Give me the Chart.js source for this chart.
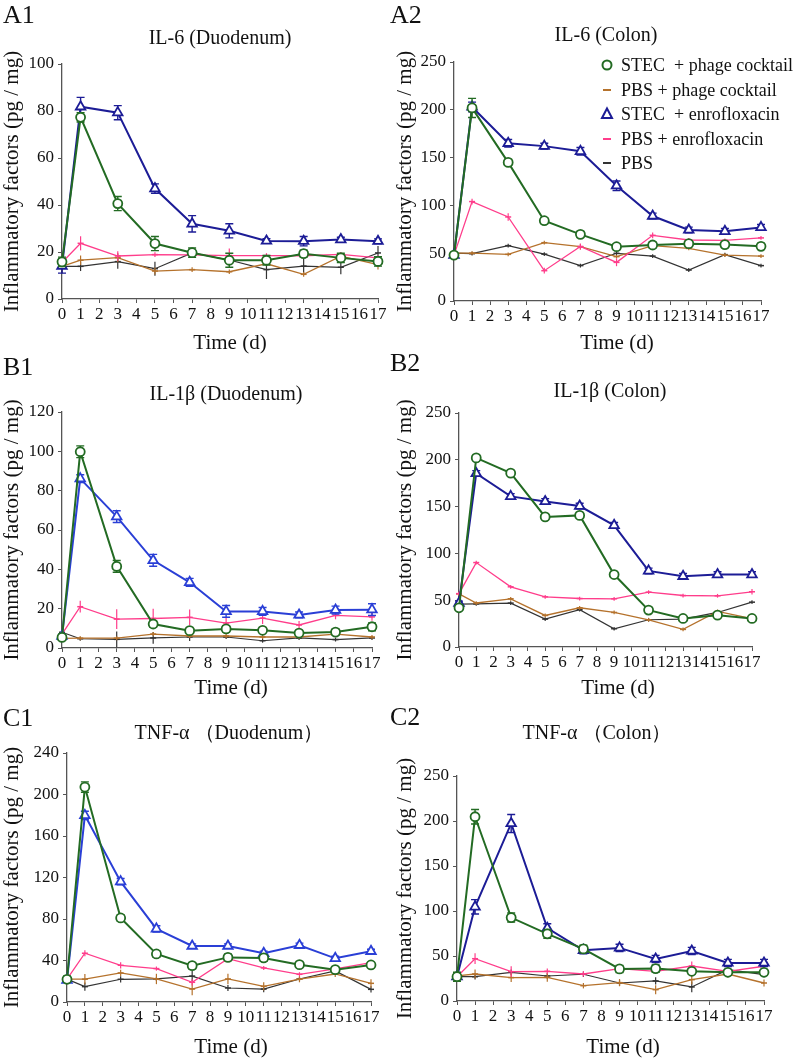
<!DOCTYPE html>
<html><head><meta charset="utf-8">
<script src="https://cdn.jsdelivr.net/npm/chart.js@4.4.1/dist/chart.umd.min.js"></script>
<style>
html,body{margin:0;padding:0;background:#fff;}
body{width:800px;height:1059px;position:relative;overflow:hidden;font-family:"Liberation Serif","Times New Roman",Times,Tinos,"Nimbus Roman","Nimbus Roman No9 L",FreeSerif,"DejaVu Serif","Noto Serif",serif;color:#111;}
canvas{position:absolute;}
.t{position:absolute;line-height:1;white-space:pre;transform:translate(-50%,-50%);}
.lbl{position:absolute;line-height:1;font-size:26px;white-space:pre;transform:translateY(-50%);}
</style></head><body>
<script>
// ---------- DATA ----------
const days = [0, 1, 3, 5, 7, 9, 11, 13, 15, 17];
const seriesNames = ['STEC  + phage cocktail', 'PBS + phage cocktail', 'STEC  + enrofloxacin', 'PBS + enrofloxacin', 'PBS'];
const yAxisTitle = 'Inflammatory factors (pg / mg)';
const xAxisTitle = 'Time (d)';
const panelLabels = ['A1', 'A2', 'B1', 'B2', 'C1', 'C2'];
const panelTitles = ['IL-6 (Duodenum)', 'IL-6 (Colon)', 'IL-1β (Duodenum)', 'IL-1β (Colon)', 'TNF-α （Duodenum）', 'TNF-α （Colon）'];
const yMaxes = [100, 250, 120, 250, 240, 250];
const ySteps = [20, 50, 10, 50, 40, 50];

// A1 IL-6 duodenum
const a1_stecPhage = [15.8, 77.3, 40.6, 23.6, 19.7, 16.5, 16.5, 19.3, 17.5, 16.0];
const a1_pbsPhage  = [13.9, 16.5, 17.6, 11.9, 12.5, 11.6, 15.0, 10.5, 18.2, 14.6];
const a1_stecEnro  = [14.0, 81.8, 79.3, 47.0, 32.0, 29.0, 24.7, 24.6, 25.3, 24.6];
const a1_pbsEnro   = [15.5, 23.7, 18.3, 18.9, 18.8, 18.5, 18.5, 18.4, 19.0, 17.5];
const a1_pbs       = [13.9, 13.9, 15.9, 12.9, 19.6, 16.6, 12.5, 14.0, 13.5, 19.6];
const a1_stecPhage_sd = [2, 2, 3, 3, 2, 3, 2, 1.5, 2, 2];
const a1_pbsPhage_sd  = [2, 2, 2, 1.5, 1, 1, 1, 1, 1, 2];
const a1_stecEnro_sd  = [3, 4, 3, 2, 3.5, 3, 1, 2, 1, 1];
const a1_pbsEnro_sd   = [2, 3, 2, 1, 1, 3, 1, 1, 1, 1];
const a1_pbs_sd       = [3, 2, 3, 3, 1, 2, 4, 3, 3, 3];

// A2 IL-6 colon
const a2_stecPhage = [48, 202, 145, 84, 69.7, 56.8, 58.6, 60, 59, 57.2];
const a2_pbsPhage  = [50, 50, 48.8, 61, 56.8, 46.4, 57.9, 55, 48, 47];
const a2_stecEnro  = [48, 203, 165, 162, 156.6, 120.6, 88.9, 74.3, 72.9, 77];
const a2_pbsEnro   = [48, 104, 87.9, 31.7, 57, 40.4, 68.7, 63.8, 63.5, 66];
const a2_pbs       = [50, 49.5, 57.9, 49, 37, 49.9, 47, 32.4, 48.5, 37];
const a2_stecPhage_sd = [2, 10, 3, 3, 3, 3, 3, 3, 3, 3];
const a2_pbsPhage_sd  = [2, 2, 2, 2, 3, 2, 2, 2, 2, 2];
const a2_stecEnro_sd  = [2, 5, 4, 3, 4, 5, 3, 3, 3, 3];
const a2_pbsEnro_sd   = [2, 3, 4, 3, 3, 4, 3, 2, 2, 2];
const a2_pbs_sd       = [2, 2, 2, 2, 2, 2, 2, 2, 2, 2];

// B1 IL-1β duodenum
const b1_stecPhage = [5.4, 99.8, 41.5, 12.2, 8.8, 9.7, 9.0, 7.6, 8.1, 10.8];
const b1_pbsPhage  = [4.9, 5.0, 5.0, 7.1, 6.1, 6.1, 5.6, 5.6, 7.1, 5.6];
const b1_stecEnro  = [6.0, 86.1, 66.8, 44.6, 33.4, 18.6, 18.6, 16.8, 19.3, 19.5];
const b1_pbsEnro   = [7.0, 21.0, 14.7, 15.0, 15.6, 12.7, 15.2, 11.7, 16.6, 15.8];
const b1_pbs       = [8.0, 4.7, 4.4, 5.1, 5.6, 5.6, 3.7, 5.1, 4.3, 5.1];
const b1_stecPhage_sd = [1.5, 3, 3, 1.5, 1, 1.5, 1, 1, 1.5, 2];
const b1_pbsPhage_sd  = [1, 1, 1, 1, 1, 1, 1, 1, 1, 1];
const b1_stecEnro_sd  = [1, 2, 3, 3, 2, 3, 2, 1.5, 2, 3];
const b1_pbsEnro_sd   = [2, 3, 5, 5, 4, 3, 3, 2, 2, 2];
const b1_pbs_sd       = [1, 1, 4, 3, 2, 1, 1, 1, 1, 1];

// B2 IL-1β colon
const b2_stecPhage = [41.9, 202, 185.7, 139, 140.6, 77.4, 39.4, 30.5, 34, 30.5];
const b2_pbsPhage  = [56.8, 47, 51.5, 33.7, 41.9, 36.9, 29, 18.8, 38, 30.2];
const b2_stecEnro  = [47, 185.4, 160.9, 155.5, 150.6, 130, 81.3, 75.6, 77.4, 77.4];
const b2_pbsEnro   = [57, 90.2, 64.3, 53.6, 51.8, 51.5, 58.6, 55, 54.7, 59];
const b2_pbs       = [45.8, 46, 46.9, 29.8, 39.8, 19.5, 29.1, 29.8, 36.9, 47.9];
const b2_stecPhage_sd = [2, 2, 2, 2, 2, 2, 2, 2, 2, 2];
const b2_pbsPhage_sd  = [2, 2, 2, 2, 2, 2, 2, 2, 2, 2];
const b2_stecEnro_sd  = [2, 3, 3, 3, 3, 3, 3, 3, 3, 3];
const b2_pbsEnro_sd   = [2, 2, 2, 2, 2, 2, 2, 2, 2, 3];
const b2_pbs_sd       = [2, 2, 2, 2, 2, 2, 2, 2, 2, 2];

// C1 TNF-α duodenum
const c1_stecPhage = [21.9, 207.2, 81, 46.3, 35, 43, 42.5, 36, 31.2, 35.7];
const c1_pbsPhage  = [22, 22, 28, 22.2, 12.5, 22.2, 15.1, 22, 27, 18];
const c1_stecEnro  = [21, 179.9, 116, 70.5, 54, 54, 47, 54.7, 42.1, 48.9];
const c1_pbsEnro   = [22, 47, 35.4, 32.2, 19, 41.8, 32.8, 26.7, 31.9, 38];
const c1_pbs       = [22, 14.8, 21.9, 22.2, 25, 13.5, 12.5, 22.2, 30, 12.2];
const c1_stecPhage_sd = [3, 5, 3, 3, 3, 3, 3, 2, 2, 2];
const c1_pbsPhage_sd  = [5, 5, 3, 5, 6, 5, 4, 3, 3, 4];
const c1_stecEnro_sd  = [2, 4, 3, 3, 2, 2, 2, 2, 2, 2];
const c1_pbsEnro_sd   = [2, 3, 3, 2, 3, 3, 2, 2, 2, 2];
const c1_pbs_sd       = [2, 4, 3, 2, 5, 3, 3, 2, 2, 3];

// C2 TNF-α colon
const c2_stecPhage = [27, 204.7, 92.7, 74.6, 57.9, 35.6, 36, 33, 31.9, 31.9];
const c2_pbsPhage  = [28, 30, 26, 26.3, 17, 20.4, 12.6, 23.7, 30, 20];
const c2_stecEnro  = [27, 104.6, 197.3, 80.9, 56.4, 59, 46.7, 55.6, 42.3, 42.3];
const c2_pbsEnro   = [27, 47, 32.6, 33, 30, 36, 33, 38.9, 33, 38.6];
const c2_pbs       = [27, 27, 31.9, 27.8, 29.7, 20, 22.3, 15.6, 34.9, 29.3];
const c2_stecPhage_sd = [5, 8, 5, 5, 4, 4, 4, 3, 3, 3];
const c2_pbsPhage_sd  = [4, 5, 5, 5, 3, 4, 5, 5, 4, 4];
const c2_stecEnro_sd  = [3, 8, 10, 5, 4, 4, 4, 4, 4, 4];
const c2_pbsEnro_sd   = [3, 6, 6, 3, 3, 5, 3, 5, 3, 3];
const c2_pbs_sd       = [2, 3, 3, 3, 3, 3, 4, 6, 3, 3];

// ---------- LAYOUT / STYLE ----------
const FONT = '"Liberation Serif","Times New Roman",Times,Tinos,"Nimbus Roman","Nimbus Roman No9 L",FreeSerif,"DejaVu Serif","Noto Serif",serif';
const GREEN = '#236b23', BROWN = '#b5722c', PINK = '#ff3d8b', BLACK = '#333333';
const NAVY = '#1c1c96', BRIGHT = '#2a3fd6';
const PAD_TOP = 44;

const panels = [
  {colX: 0,   area: {l: 62,  t: 64,  r: 378, b: 299}, blue: NAVY,   legend: false,
   vals: [a1_stecPhage, a1_pbsPhage, a1_stecEnro, a1_pbsEnro, a1_pbs],
   sds: [a1_stecPhage_sd, a1_pbsPhage_sd, a1_stecEnro_sd, a1_pbsEnro_sd, a1_pbs_sd],
   lbl: [3, 14.5], ttl: [220, 37], xt: [230, 342]},
  {colX: 393, area: {l: 454, t: 62,  r: 761, b: 301}, blue: NAVY,   legend: true,
   vals: [a2_stecPhage, a2_pbsPhage, a2_stecEnro, a2_pbsEnro, a2_pbs],
   sds: [a2_stecPhage_sd, a2_pbsPhage_sd, a2_stecEnro_sd, a2_pbsEnro_sd, a2_pbs_sd],
   lbl: [390, 14.5], ttl: [606, 34], xt: [617, 342]},
  {colX: 0,   area: {l: 62,  t: 412, r: 372, b: 648}, blue: BRIGHT, legend: false,
   vals: [b1_stecPhage, b1_pbsPhage, b1_stecEnro, b1_pbsEnro, b1_pbs],
   sds: [b1_stecPhage_sd, b1_pbsPhage_sd, b1_stecEnro_sd, b1_pbsEnro_sd, b1_pbs_sd],
   lbl: [3, 367], ttl: [226, 393], xt: [231, 687]},
  {colX: 393, area: {l: 459, t: 413, r: 752, b: 647}, blue: NAVY,   legend: false,
   vals: [b2_stecPhage, b2_pbsPhage, b2_stecEnro, b2_pbsEnro, b2_pbs],
   sds: [b2_stecPhage_sd, b2_pbsPhage_sd, b2_stecEnro_sd, b2_pbsEnro_sd, b2_pbs_sd],
   lbl: [390, 363], ttl: [610, 390], xt: [618, 687]},
  {colX: 0,   area: {l: 67,  t: 753, r: 371, b: 1002}, blue: BRIGHT, legend: false,
   vals: [c1_stecPhage, c1_pbsPhage, c1_stecEnro, c1_pbsEnro, c1_pbs],
   sds: [c1_stecPhage_sd, c1_pbsPhage_sd, c1_stecEnro_sd, c1_pbsEnro_sd, c1_pbs_sd],
   lbl: [3, 718], ttl: [229, 732], xt: [231, 1046]},
  {colX: 393, area: {l: 457, t: 776, r: 764, b: 1001}, blue: NAVY,   legend: false,
   vals: [c2_stecPhage, c2_pbsPhage, c2_stecEnro, c2_pbsEnro, c2_pbs],
   sds: [c2_stecPhage_sd, c2_pbsPhage_sd, c2_stecEnro_sd, c2_pbsEnro_sd, c2_pbs_sd],
   lbl: [390, 717], ttl: [597, 732], xt: [623, 1046]}
];

function seriesStyles(blue) {
  return [
    {color: GREEN, style: 'circle',   r: 4.5, bw: 1.8, lw: 2,   capped: true},
    {color: BROWN, style: 'line',     r: 3,   bw: 1.5, lw: 1.3, capped: false},
    {color: blue,  style: 'triangle', r: 5.5, bw: 1.8, lw: 2,   capped: true},
    {color: PINK,  style: 'line',     r: 3,   bw: 1.5, lw: 1.3, capped: false},
    {color: BLACK, style: 'line',     r: 3,   bw: 1.5, lw: 1.2, capped: false}
  ];
}

const errorBars = {
  id: 'errorBars',
  beforeDatasetDraw(chart, args) {
    const ds = chart.data.datasets[args.index];
    if (!ds.sd) return;
    const ys = chart.scales.y, ctx = chart.ctx;
    ctx.save();
    ctx.strokeStyle = ds.borderColor;
    ctx.lineWidth = ds.capped ? 1.4 : 1.2;
    args.meta.data.forEach((pt, i) => {
      const v = ds.data[i].y, e = ds.sd[i];
      const yTop = ys.getPixelForValue(v + e), yBot = ys.getPixelForValue(Math.max(0, v - e));
      ctx.beginPath();
      ctx.moveTo(pt.x, yTop); ctx.lineTo(pt.x, yBot);
      if (ds.capped) {
        ctx.moveTo(pt.x - 4, yTop); ctx.lineTo(pt.x + 4, yTop);
        ctx.moveTo(pt.x - 4, yBot); ctx.lineTo(pt.x + 4, yBot);
      }
      ctx.stroke();
    });
    ctx.restore();
  }
};

function legendPlugin(canvasX, canvasY, styles) {
  const order = [0, 1, 2, 3, 4];
  const rows = [65, 90, 114, 139, 163];
  return {
    id: 'customLegend',
    afterDraw(chart) {
      const ctx = chart.ctx;
      ctx.save();
      order.forEach((si, k) => {
        const st = styles[si];
        const mx = 607 - canvasX, my = rows[k] - canvasY;
        ctx.strokeStyle = st.color; ctx.fillStyle = '#fff';
        ctx.lineWidth = 2;
        ctx.beginPath();
        if (st.style === 'circle') {
          ctx.arc(mx, my, 4.5, 0, Math.PI * 2); ctx.fill(); ctx.stroke();
        } else if (st.style === 'triangle') {
          ctx.moveTo(mx, my - 5.5); ctx.lineTo(mx + 5, my + 4); ctx.lineTo(mx - 5, my + 4); ctx.closePath();
          ctx.fill(); ctx.stroke();
        } else {
          ctx.moveTo(mx - 4, my); ctx.lineTo(mx + 4, my); ctx.stroke();
        }
        ctx.fillStyle = '#111';
        ctx.font = '18px ' + FONT;
        ctx.textBaseline = 'middle';
        ctx.textAlign = 'left';
        ctx.fillText(seriesNames[si], 621 - canvasX, my + 1);
      });
      ctx.restore();
    }
  };
}

function addText(cls, text, x, y, size) {
  const d = document.createElement('div');
  d.className = cls;
  d.textContent = text;
  d.style.left = x + 'px';
  d.style.top = y + 'px';
  if (size) d.style.fontSize = size + 'px';
  document.body.appendChild(d);
}

panels.forEach((p, idx) => {
  const styles = seriesStyles(p.blue);
  const cx = p.colX;
  const cy = p.area.t - PAD_TOP;
  const cw = (p.legend ? 800 : p.area.r + 14) - cx;
  const ch = p.area.b + 32 - cy;
  const cv = document.createElement('canvas');
  cv.width = cw; cv.height = ch;
  cv.style.left = cx + 'px'; cv.style.top = cy + 'px';
  cv.style.width = cw + 'px'; cv.style.height = ch + 'px';
  document.body.appendChild(cv);
  const yW = p.area.l - cx;
  const xH = ch - (p.area.b - cy);
  const padR = cw - (p.area.r - cx);

  const drawOrder = [0, 2, 3, 1, 4];
  const datasets = drawOrder.map(si => {
    const st = styles[si];
    return {
      label: seriesNames[si],
      data: days.map((d, i) => ({x: d, y: p.vals[si][i]})),
      sd: p.sds[si],
      capped: st.capped,
      borderColor: st.color,
      backgroundColor: '#ffffff',
      borderWidth: st.lw,
      pointStyle: st.style,
      pointRadius: st.r,
      pointBorderWidth: st.bw,
      pointBorderColor: st.color,
      pointBackgroundColor: '#ffffff',
      tension: 0,
      clip: false,
      fill: false
    };
  });

  const plugins = [errorBars];
  if (p.legend) plugins.push(legendPlugin(cx, cy, styles));

  new Chart(cv, {
    type: 'line',
    data: {datasets},
    plugins,
    options: {
      responsive: false, animation: false, devicePixelRatio: 1,
      events: [],
      layout: {padding: {left: 0, top: PAD_TOP, right: padR, bottom: 0}},
      plugins: {legend: {display: false}, tooltip: {enabled: false}, title: {display: false}},
      scales: {
        x: {
          type: 'linear', min: 0, max: 17,
          afterFit(s) { s.height = xH; },
          ticks: {stepSize: 1, autoSkip: false, maxRotation: 0, minRotation: 0, padding: 1, color: '#111', font: {family: FONT, size: 17}},
          grid: {drawOnChartArea: false, drawTicks: true, tickLength: 4, color: '#555', lineWidth: 1},
          border: {display: true, color: '#555', width: 1.3}
        },
        y: {
          min: 0, max: yMaxes[idx],
          afterFit(s) { s.width = yW; },
          ticks: {stepSize: ySteps[idx], padding: 4, color: '#111', font: {family: FONT, size: 17}},
          grid: {drawOnChartArea: false, drawTicks: true, tickLength: 4, color: '#555', lineWidth: 1},
          border: {display: true, color: '#555', width: 1.3},
          title: {display: true, text: yAxisTitle, color: '#111', padding: 0, font: {family: FONT, size: 21}}
        }
      }
    }
  });

  addText('lbl', panelLabels[idx], p.lbl[0], p.lbl[1]);
  addText('t', panelTitles[idx], p.ttl[0], p.ttl[1], 20);
  addText('t', xAxisTitle, p.xt[0], p.xt[1], 21);
});
</script>
</body></html>
